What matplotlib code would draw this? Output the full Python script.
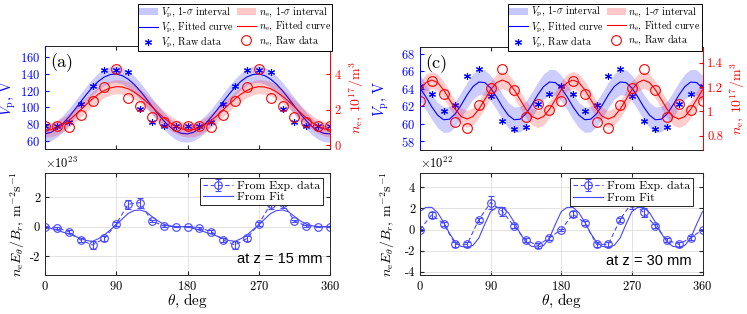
import numpy as np
import matplotlib
matplotlib.use("Agg")
import matplotlib.pyplot as plt
from matplotlib.patches import Patch
from matplotlib.lines import Line2D

plt.rcParams['font.family'] = 'serif'
plt.rcParams['font.serif'] = ['cmr10']
plt.rcParams['mathtext.fontset'] = 'cm'
plt.rcParams['axes.formatter.use_mathtext'] = True

# ---- data ----
theta = np.arange(0, 361, 15)
theta_fit = np.arange(0, 360.1, 7.5)

# (a) z = 15 mm
vp_a = [78, 78, 82, 104, 126, 145, 145, 142, 98, 82, 78, 78, 78,
        78, 82, 104, 126, 145, 145, 142, 98, 82, 78, 78, 78]
ne_a = [1.07, 1.07, 1.0, 1.69, 2.5, 3.28, 4.26, 2.63, 2.2, 1.56, 1.28, 1.07, 1.07,
        1.07, 1.0, 1.69, 2.5, 3.28, 4.26, 2.63, 2.2, 1.56, 1.28, 1.07, 1.07]
vp_fit_a = [68.1, 70.0, 74.2, 80.4, 88.2, 97.1, 106.5, 115.7, 124.1, 131.2, 136.4, 139.3,
            139.9, 138.0, 133.8, 127.6, 119.8, 110.9, 101.5, 92.3, 83.9, 76.8, 71.6, 68.7,
            68.1, 70.0, 74.2, 80.4, 88.2, 97.1, 106.5, 115.7, 124.1, 131.2, 136.4, 139.3,
            139.9, 138.0, 133.8, 127.6, 119.8, 110.9, 101.5, 92.3, 83.9, 76.8, 71.6, 68.7, 68.1]
ne_fit_a = [0.85, 0.87, 0.97, 1.15, 1.39, 1.67, 1.98, 2.30, 2.60, 2.87, 3.08, 3.22,
            3.29, 3.27, 3.17, 2.99, 2.75, 2.47, 2.16, 1.84, 1.54, 1.27, 1.06, 0.92,
            0.85, 0.87, 0.97, 1.15, 1.39, 1.67, 1.98, 2.30, 2.60, 2.87, 3.08, 3.22,
            3.29, 3.27, 3.17, 2.99, 2.75, 2.47, 2.16, 1.84, 1.54, 1.27, 1.06, 0.92, 0.85]
vp_sig_a = 10.0
ne_sig_a = 0.4

# (b) flux, units of 1e23
flux_b = [0, -0.07, -0.34, -0.91, -1.25, -0.8, 0.18, 1.53, 1.64, 0.39, 0.05, 0, 0,
          -0.07, -0.34, -0.91, -1.25, -0.8, 0.18, 1.53, 1.64, 0.39, 0.05, 0, 0]
err_b = [0.06, 0.08, 0.1, 0.15, 0.28, 0.18, 0.12, 0.3, 0.34, 0.1, 0.06, 0.05, 0.05,
         0.08, 0.1, 0.15, 0.28, 0.18, 0.12, 0.3, 0.34, 0.1, 0.06, 0.05, 0.05]
fit_b = [0, -0.12, -0.24, -0.37, -0.5, -0.65, -0.8, -0.95, -1.0, -0.82, -0.57, -0.22,
         0.12, 0.52, 0.9, 1.1, 1.14, 1.02, 0.7, 0.4, 0.17, 0.06, 0.01, 0,
         0, -0.12, -0.24, -0.37, -0.5, -0.65, -0.8, -0.95, -1.0, -0.82, -0.57, -0.22,
         0.12, 0.52, 0.9, 1.1, 1.14, 1.02, 0.7, 0.4, 0.17, 0.06, 0.01, 0, 0]

# (c) z = 30 mm
vp_c = [64.3, 63.4, 61.4, 62.1, 65.4, 66.2, 63.1, 60.3, 59.4, 59.6, 62.3, 63.4, 64.3,
        63.4, 61.4, 62.1, 65.4, 66.2, 63.1, 60.3, 59.4, 59.6, 62.3, 63.4, 64.3]
ne_c = [1.085, 1.248, 1.14, 0.917, 0.861, 1.055, 1.193, 1.345, 1.179, 0.958, 1.058, 1.014, 1.085,
        1.248, 1.14, 0.917, 0.861, 1.055, 1.193, 1.345, 1.179, 0.958, 1.058, 1.014, 1.085]
vp_fit_c = [64.07, 63.06, 61.92, 60.97, 60.45, 60.51, 61.13, 62.14, 63.28, 64.23, 64.75, 64.69,
            64.07, 63.06, 61.92, 60.97, 60.45, 60.51, 61.13, 62.14, 63.28, 64.23, 64.75, 64.69,
            64.07, 63.06, 61.92, 60.97, 60.45, 60.51, 61.13, 62.14, 63.28, 64.23, 64.75, 64.69,
            64.07, 63.06, 61.92, 60.97, 60.45, 60.51, 61.13, 62.14, 63.28, 64.23, 64.75, 64.69,
            64.07]
ne_fit_c = [1.178, 1.237, 1.258, 1.237, 1.178, 1.098, 1.018, 0.959, 0.938, 0.959, 1.018, 1.098,
            1.178, 1.237, 1.258, 1.237, 1.178, 1.098, 1.018, 0.959, 0.938, 0.959, 1.018, 1.098,
            1.178, 1.237, 1.258, 1.237, 1.178, 1.098, 1.018, 0.959, 0.938, 0.959, 1.018, 1.098,
            1.178, 1.237, 1.258, 1.237, 1.178, 1.098, 1.018, 0.959, 0.938, 0.959, 1.018, 1.098,
            1.178]
vp_sig_c = 1.45
ne_sig_c = 0.07

# (d) flux, units of 1e22
flux_d = [0, 1.4, 0.56, -1.4, -1.4, 0.94, 2.56, 1.72, 0.31, -1.0, -1.5, -0.78, 0,
          1.45, 0.63, -1.4, -1.4, 0.94, 2.56, 1.63, 0.31, -1.0, -1.4, -0.78, 0]
err_d = [0.1, 0.3, 0.2, 0.25, 0.25, 0.2, 0.65, 0.4, 0.2, 0.2, 0.25, 0.2, 0.1,
         0.3, 0.2, 0.25, 0.25, 0.2, 0.65, 0.4, 0.2, 0.2, 0.25, 0.2, 0.1]
fit_d = [1.7, 2.1, 2.1, 1.6, 0.7, -0.35, -1.2, -1.6, -1.65, -1.5, -0.8, 0.5,
         1.7, 2.1, 2.1, 1.6, 0.7, -0.35, -1.2, -1.6, -1.65, -1.5, -0.8, 0.5,
         1.7, 2.1, 2.1, 1.6, 0.7, -0.35, -1.2, -1.6, -1.65, -1.5, -0.8, 0.5,
         1.7, 2.1, 2.1, 1.6, 0.7, -0.35, -1.2, -1.6, -1.65, -1.5, -0.8, 0.5,
         1.7]

BLUE = '#0000ff'
RED = '#ff0000'
FLUX = '#4848ff'
GRAY = '#262626'
W, H = 747, 314
star = (6, 2, 0)


def box(l, r, t, b):
    return [l / W, 1 - b / H, (r - l) / W, (b - t) / H]


def top_panel(rect, vp, ne, vp_fit, ne_fit, vp_sig, ne_sig, ylim1, yt1, ylim2, yt2,
              yt2lab, letter, lab1x, lab2x, leg_anchor):
    ax = fig.add_axes(rect)
    ax2 = ax.twinx()
    vp_fit = np.array(vp_fit)
    ne_fit = np.array(ne_fit)
    ax.fill_between(theta_fit, vp_fit - vp_sig, vp_fit + vp_sig, color=BLUE, alpha=0.2, lw=0)
    ax.plot(theta_fit, vp_fit, color=BLUE, lw=0.8)
    ax.plot(theta, vp, ls='none', marker=star, ms=5, mec=BLUE, mew=0.8)
    ax2.fill_between(theta_fit, ne_fit - ne_sig, ne_fit + ne_sig, color=RED, alpha=0.2, lw=0)
    ax2.plot(theta_fit, ne_fit, color=RED, lw=0.8)
    ax2.plot(theta, ne, ls='none', marker='o', ms=7, mfc='none', mec=RED, mew=0.8)
    ax.set_xlim(0, 360)
    ax.set_xticks([0, 90, 180, 270, 360])
    ax.set_ylim(*ylim1)
    ax.set_yticks(yt1)
    ax2.set_ylim(*ylim2)
    ax2.set_yticks(yt2)
    ax2.set_yticklabels(yt2lab)
    ax.tick_params(axis='x', direction='in', top=True, labelbottom=False, length=3, color=GRAY)
    ax.tick_params(axis='y', direction='in', colors=BLUE, labelsize=9, length=3)
    ax2.tick_params(axis='y', direction='in', colors=RED, labelsize=9, length=3)
    for a in (ax, ax2):
        a.spines['left'].set_color(BLUE)
        a.spines['right'].set_color(RED)
        a.spines['top'].set_color(GRAY)
        a.spines['bottom'].set_color(GRAY)
        for s in a.spines.values():
            s.set_linewidth(0.7)
    # left label anchor = right edge of the text, right label anchor = left edge
    ax.set_ylabel(r'$V_\mathrm{p}$, V', color=BLUE, fontsize=10.5)
    ax.yaxis.set_label_coords(lab1x, 0.5)
    ax2.set_ylabel(r'$n_\mathrm{e}$, $10^{17}/\mathrm{m}^3$', color=RED, fontsize=10)
    ax2.yaxis.set_label_coords(lab2x, 0.5)
    ax.text(0.02, 0.835, letter, transform=ax.transAxes, fontsize=13, va='center')
    handles = [Patch(facecolor=BLUE, alpha=0.22, lw=0),
               Line2D([], [], color=BLUE, lw=0.8),
               Line2D([], [], ls='none', marker=star, ms=5, mec=BLUE, mew=0.8),
               Patch(facecolor=RED, alpha=0.22, lw=0),
               Line2D([], [], color=RED, lw=0.8),
               Line2D([], [], ls='none', marker='o', ms=7, mfc='none', mec=RED, mew=0.8)]
    labels = [r'$V_\mathrm{p}$, 1-$\sigma$ interval', r'$V_\mathrm{p}$, Fitted curve',
              r'$V_\mathrm{p}$, Raw data', r'$n_\mathrm{e}$, 1-$\sigma$ interval',
              r'$n_\mathrm{e}$, Fitted curve', r'$n_\mathrm{e}$, Raw data']
    leg = ax2.legend(handles, labels, ncol=2, loc='upper right', bbox_to_anchor=leg_anchor,
                     borderaxespad=0, fontsize=7.3, handlelength=1.9, handleheight=0.7,
                     columnspacing=0.3, handletextpad=0.25, labelspacing=0.0, borderpad=0.1,
                     fancybox=False, edgecolor='k', framealpha=1)
    leg.get_frame().set_linewidth(0.7)
    return ax


def bottom_panel(rect, flux, err, fit, ylim, yt, power, ztext, labx, leg_anchor, txt_pos):
    ax = fig.add_axes(rect)
    ax.grid(True, color='0.87', lw=0.6)
    ax.set_axisbelow(True)
    eb = ax.errorbar(theta, flux, yerr=err, fmt='--o', color=FLUX, mfc='none', ms=5.5,
                     lw=0.8, mew=0.8, elinewidth=0.8, capsize=2.5, dashes=(4, 2.5))
    fl, = ax.plot(theta_fit, fit, color=FLUX, lw=0.8)
    ax.set_xlim(0, 360)
    ax.set_xticks([0, 90, 180, 270, 360])
    ax.set_ylim(*ylim)
    ax.set_yticks(yt)
    ax.set_yticklabels([str(v) for v in yt])
    ax.tick_params(direction='in', top=True, right=True, labelsize=9, length=3, color=GRAY)
    for s in ax.spines.values():
        s.set_color(GRAY)
        s.set_linewidth(0.7)
    ax.set_xlabel(r'$\theta$, deg', fontsize=11)
    ax.xaxis.set_label_coords(0.5, -0.165)
    ax.set_ylabel(r'$n_\mathrm{e}E_\theta/B_r$, m$^{-2}$s$^{-1}$', fontsize=10)
    ax.yaxis.set_label_coords(labx, 0.5)
    ax.text(0, 1.01, r'$\times10^{%d}$' % power, transform=ax.transAxes, fontsize=9,
            va='bottom', ha='left')
    ax.text(txt_pos[0], txt_pos[1], ztext, transform=ax.transAxes, ha='right', va='center',
            fontsize=10.5, family='Liberation Sans')
    leg = ax.legend([eb, fl], ['From Exp. data', 'From Fit'], loc='upper right',
                    bbox_to_anchor=leg_anchor, borderaxespad=0,
                    fontsize=8.5, handlelength=2.6, handletextpad=0.3, labelspacing=0.1,
                    borderpad=0.25, fancybox=False, edgecolor=GRAY, framealpha=1)
    leg.get_frame().set_linewidth(0.7)
    return ax


fig = plt.figure(figsize=(W / 100, H / 100), dpi=100)

top_panel(box(45, 330, 46, 149), vp_a, ne_a, vp_fit_a, ne_fit_a, vp_sig_a, ne_sig_a,
          (50, 173.5), [60, 80, 100, 120, 140, 160], (-0.22, 5.58), [0, 2, 4],
          ['0', '2', '4'], '(a)', -0.095, 1.06, (1.007, 1.405))
bottom_panel(box(45, 330, 172.5, 275), flux_b, err_b, fit_b, (-3.3, 3.7), [-2, 0, 2], 23,
             'at z = 15 mm', -0.063, (0.975, 0.948), (0.975, 0.16))

top_panel(box(420, 702.5, 46.5, 150), vp_c, ne_c, vp_fit_c, ne_fit_c, vp_sig_c, ne_sig_c,
          (57, 68.8), [58, 60, 62, 64, 66, 68], (0.684, 1.533), [0.8, 1.0, 1.2, 1.4],
          ['0.8', '1', '1.2', '1.4'], '(c)', -0.103, 1.092, (0.998, 1.41))
bottom_panel(box(420, 702.5, 172.5, 275), flux_d, err_d, fit_d, (-4.3, 5.4), [-4, -2, 0, 2, 4], 22,
             'at z = 30 mm', -0.081, (0.966, 0.945), (0.963, 0.14))

fig.savefig('out.png', dpi=100)
